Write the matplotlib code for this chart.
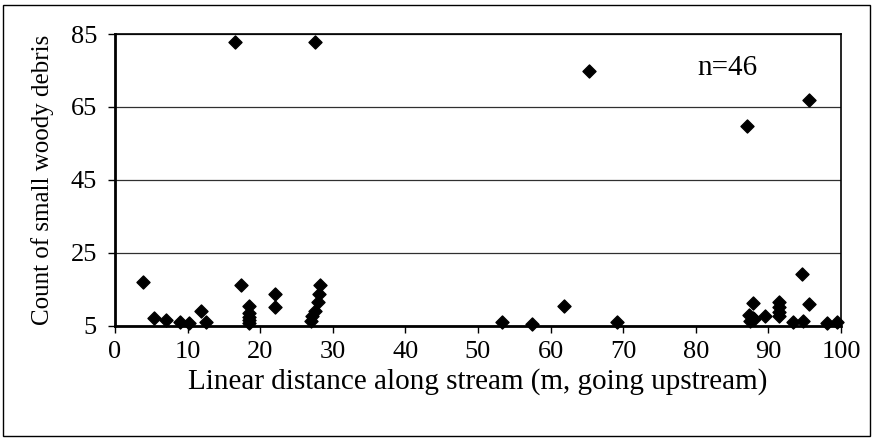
import matplotlib.pyplot as plt
from matplotlib.patches import Rectangle

# distance along stream (m) and count of small woody debris
distance = [3.9, 5.4, 7.0, 9.0, 10.2, 11.9, 12.5,
            16.5, 27.5,
            17.4, 18.4, 18.4, 18.4, 18.4, 18.4,
            22.0, 22.0,
            28.2, 28.1, 28.0, 27.5, 27.1, 27.0,
            53.3, 57.4, 61.8, 65.3, 69.2,
            87.1, 87.9, 87.3, 87.9, 88.0, 87.5,
            89.6, 91.5, 91.5, 91.5, 91.5,
            93.4, 94.8, 94.7, 95.6, 95.6, 98.1, 99.5]
count = [17.0, 7.0, 6.6, 6.1, 5.7, 9.0, 6.1,
         82.8, 82.8,
         16.1, 10.3, 8.5, 7.5, 6.6, 5.8,
         13.7, 10.1,
         16.2, 13.8, 11.4, 9.1, 7.7, 6.4,
         6.1, 5.5, 10.4, 74.9, 6.1,
         59.7, 11.2, 7.8, 7.2, 6.7, 6.3,
         7.7, 11.4, 10.1, 8.8, 7.7,
         6.1, 6.2, 19.3, 11.0, 66.8, 5.7, 6.1]

xticks = list(range(0, 101, 10))
yticks = [5, 25, 45, 65, 85]

plt.rcParams['font.family'] = ['Liberation Serif', 'DejaVu Serif']

fig = plt.figure(figsize=(8.73, 4.41), dpi=100)
fig.patches.append(Rectangle((0.003, 0.011), 0.994, 0.978, transform=fig.transFigure,
                             fill=False, edgecolor='black', linewidth=1))
ax = fig.add_axes([0.1317, 0.2615, 0.8316, 0.6614])

ax.scatter(distance, count, marker='D', s=44, color='black', zorder=3, clip_on=False)

ax.set_xlim(0, 100)
ax.set_ylim(5, 85)
ax.set_xticks(xticks)
ax.set_yticks(yticks)
ax.tick_params(labelsize=19, direction='out', length=5, width=1, color='black')
ax.tick_params(axis='x', pad=6)
ax.tick_params(axis='y', pad=8)
ax.grid(axis='y', color='#303030', linewidth=0.9)
ax.set_axisbelow(True)

for side in ['top', 'right']:
    ax.spines[side].set_linewidth(1.2)
for side in ['left', 'bottom']:
    ax.spines[side].set_linewidth(2)

ax.set_xlabel('Linear distance along stream (m, going upstream)', fontsize=21, labelpad=4)
ax.set_ylabel('Count of small woody debris', fontsize=18, labelpad=12)
ax.text(80.2, 75.6, 'n=46', fontsize=21, va='center')

plt.savefig('out.png', dpi=100)
